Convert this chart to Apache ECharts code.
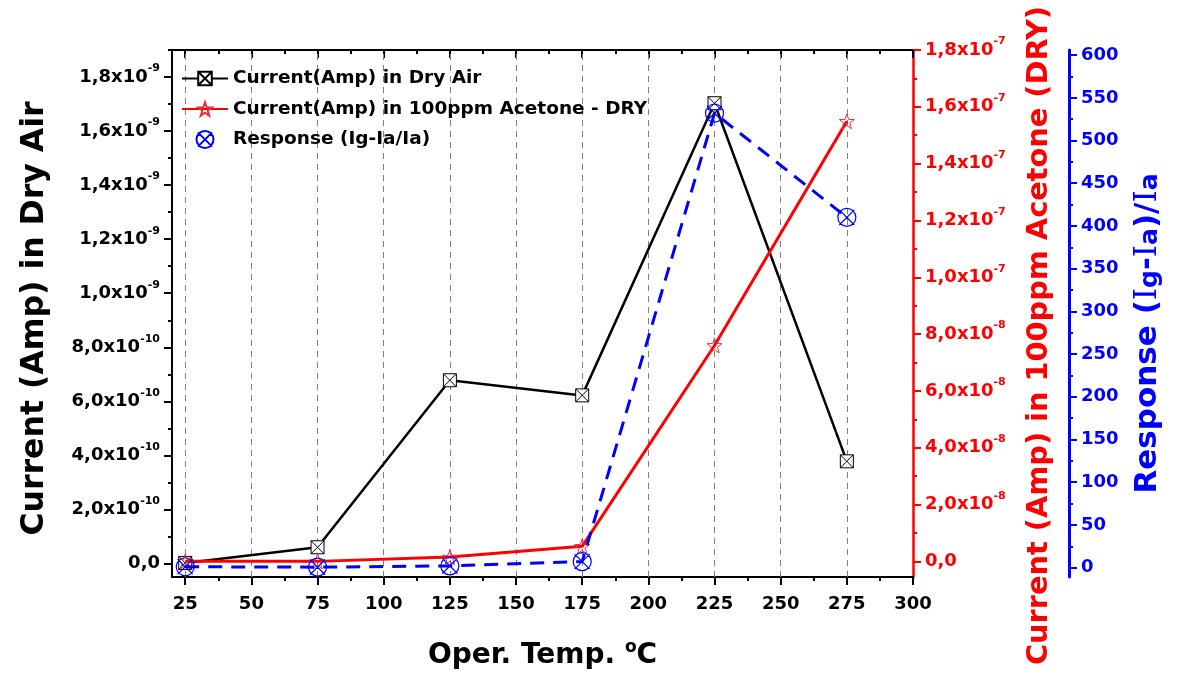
<!DOCTYPE html>
<html><head><meta charset="utf-8">
<script src="https://cdn.jsdelivr.net/npm/echarts@6/dist/echarts.min.js"></script>
<style>html,body{margin:0;padding:0;background:#fff}#c{width:1182px;height:679px}</style>
</head><body><div id="c"></div>
<script>
// ---------- data ----------
const temps = [25, 75, 125, 175, 225, 275];
const dryAir = [2e-12, 6.0e-11, 6.78e-10, 6.22e-10, 1.703e-9, 3.78e-10];
const acetone = [0, 0, 1.5e-9, 5.3e-9, 7.6e-8, 1.549e-7];
const response = [1, 0.5, 2, 7, 532, 410];

const seriesNames = ['Current(Amp) in Dry Air', 'Current(Amp) in 100ppm Acetone - DRY', 'Response (Ig-Ia/Ia)'];

const xTicks = [25, 50, 75, 100, 125, 150, 175, 200, 225, 250, 275, 300];
const xTickLabels = ['25', '50', '75', '100', '125', '150', '175', '200', '225', '250', '275', '300'];
const xMinorTicks = [37.5, 62.5, 87.5, 112.5, 137.5, 162.5, 187.5, 212.5, 237.5, 262.5, 287.5];
const gridX = [25, 50, 75, 100, 125, 150, 175, 200, 225, 250, 275];

const leftTicks = [0, 2e-10, 4e-10, 6e-10, 8e-10, 1e-9, 1.2e-9, 1.4e-9, 1.6e-9, 1.8e-9];
const leftMinorTicks = [1e-10, 3e-10, 5e-10, 7e-10, 9e-10, 1.1e-9, 1.3e-9, 1.5e-9, 1.7e-9, 1.9e-9];
const leftMantissa = ['0,0', '2,0x10', '4,0x10', '6,0x10', '8,0x10', '1,0x10', '1,2x10', '1,4x10', '1,6x10', '1,8x10'];
const leftExp = ['', '-10', '-10', '-10', '-10', '-9', '-9', '-9', '-9', '-9'];

const redTicks = [0, 2e-8, 4e-8, 6e-8, 8e-8, 1e-7, 1.2e-7, 1.4e-7, 1.6e-7, 1.8e-7];
const redMinorTicks = [1e-8, 3e-8, 5e-8, 7e-8, 9e-8, 1.1e-7, 1.3e-7, 1.5e-7, 1.7e-7];
const redMantissa = ['0,0', '2,0x10', '4,0x10', '6,0x10', '8,0x10', '1,0x10', '1,2x10', '1,4x10', '1,6x10', '1,8x10'];
const redExp = ['', '-8', '-8', '-8', '-8', '-7', '-7', '-7', '-7', '-7'];

const blueTicks = [0, 50, 100, 150, 200, 250, 300, 350, 400, 450, 500, 550, 600];
const blueTickLabels = ['0', '50', '100', '150', '200', '250', '300', '350', '400', '450', '500', '550', '600'];
const blueMinorTicks = [25, 75, 125, 175, 225, 275, 325, 375, 425, 475, 525, 575];

// ---------- helpers ----------
const FONT = 'DejaVu Sans';
const RED = '#ff0000', BLUE = '#0000ff';
function nearest(ticks, v) {
  let bi = 0, bd = Infinity;
  ticks.forEach((t, i) => { const d = Math.abs(t - v); if (d < bd) { bd = d; bi = i; } });
  return bi;
}
function sciFormatter(ticks, mant, exp) {
  return v => { const i = nearest(ticks, v); return exp[i] ? '{m|' + mant[i] + '}{s|' + exp[i] + '}' : '{m|' + mant[i] + '}'; };
}
function sciRich(color) {
  return {
    m: { fontSize: 18, fontWeight: 'bold', fontFamily: FONT, color: color, lineHeight: 28, verticalAlign: 'middle' },
    s: { fontSize: 11, fontWeight: 'bold', fontFamily: FONT, color: color, verticalAlign: 'top' }
  };
}
const squareX = 'path://M0,0L10,0L10,10L0,10Z M0,0L10,10 M10,0L0,10';
const star = 'path://M10,0L12.35,6.76L19.51,6.91L13.8,11.24L15.88,18.09L10,14L4.12,18.09L6.2,11.24L0.49,6.91L7.65,6.76Z';
const circleX = 'path://M0,5A5,5,0,1,1,10,5A5,5,0,1,1,0,5Z M0.8,0.8L9.2,9.2 M9.2,0.8L0.8,9.2';

const X_MIN = 20, X_MAX = 300;
function xAxisBase(extra) {
  return Object.assign({
    type: 'value', min: X_MIN, max: X_MAX, gridIndex: 0,
    splitLine: { show: false }, minorTick: { show: false }, minorSplitLine: { show: false },
    axisLabel: { show: false }, axisLine: { show: false, onZero: false }, axisTick: { show: false }
  }, extra);
}
function yAxisBase(extra) {
  return Object.assign({
    type: 'value', gridIndex: 0,
    splitLine: { show: false }, minorTick: { show: false }, minorSplitLine: { show: false },
    axisLabel: { show: false }, axisLine: { show: false, onZero: false }, axisTick: { show: false }
  }, extra);
}

const chart = echarts.init(document.getElementById('c'), null, { renderer: 'canvas' });
const option = {
  backgroundColor: '#ffffff',
  animation: false,
  grid: { left: 172, top: 50, right: 269, bottom: 102, containLabel: false, outerBoundsMode: 'none' },
  legend: {
    orient: 'vertical', left: 176, top: 64, itemWidth: 46, itemHeight: 17, itemGap: 11.5,
    textStyle: { fontSize: 18.5, fontWeight: 'bold', fontFamily: FONT, color: '#000', lineHeight: 17 },
    data: [
      { name: seriesNames[0] },
      { name: seriesNames[1] },
      { name: seriesNames[2], icon: circleX }
    ]
  },
  xAxis: [
    xAxisBase({
      position: 'bottom',
      axisLine: { show: true, onZero: false, lineStyle: { color: '#000', width: 2 } },
      axisTick: { show: true, customValues: xTicks, length: 8, lineStyle: { color: '#000', width: 2 } },
      axisLabel: { show: true, customValues: xTicks, margin: 18, fontSize: 18, fontWeight: 'bold', fontFamily: FONT, color: '#000',
        formatter: v => xTickLabels[nearest(xTicks, v)] },
      name: '{t|Oper. Temp. }{sup|o}{t|C}', nameLocation: 'middle', nameGap: 62,
      nameTextStyle: { rich: {
        t: { fontSize: 28, fontWeight: 'bold', fontFamily: FONT, color: '#000', lineHeight: 34, verticalAlign: 'middle' },
        sup: { fontSize: 17, fontWeight: 'bold', fontFamily: FONT, color: '#000', verticalAlign: 'top' } } }
    }),
    xAxisBase({
      position: 'top',
      axisLine: { show: true, onZero: false, lineStyle: { color: '#000', width: 2 } },
      axisTick: { show: true, inside: true, customValues: xTicks, length: 8, lineStyle: { color: '#000', width: 2 } }
    }),
    xAxisBase({
      position: 'bottom',
      axisTick: { show: true, customValues: xMinorTicks, length: 4, lineStyle: { color: '#000', width: 2 } }
    }),
    xAxisBase({
      position: 'top',
      axisTick: { show: true, inside: true, customValues: xMinorTicks, length: 4, lineStyle: { color: '#000', width: 2 } }
    })
  ],
  yAxis: [
    yAxisBase({
      position: 'left', min: -5e-11, max: 1.9e-9,
      axisLine: { show: true, onZero: false, lineStyle: { color: '#000', width: 2 } },
      axisTick: { show: true, customValues: leftTicks, length: 8, lineStyle: { color: '#000', width: 2 } },
      axisLabel: { show: true, customValues: leftTicks, margin: 12, formatter: sciFormatter(leftTicks, leftMantissa, leftExp), rich: sciRich('#000') },
      name: 'Current (Amp) in Dry Air', nameLocation: 'middle', nameRotate: 90, nameGap: 121, nameMoveOverlap: false,
      nameTextStyle: { fontSize: 31.5, fontWeight: 'bold', fontFamily: FONT, color: '#000', padding: [0, 10, 0, 0] }
    }),
    yAxisBase({
      position: 'right', offset: 0, min: -5.5e-9, max: 1.8e-7,
      axisLine: { show: true, onZero: false, lineStyle: { color: RED, width: 2.5 } },
      axisTick: { show: true, customValues: redTicks, length: 8, lineStyle: { color: RED, width: 2 } },
      axisLabel: { show: true, customValues: redTicks, margin: 12, formatter: sciFormatter(redTicks, redMantissa, redExp), rich: sciRich(RED) },
      name: 'Current (Amp) in 100ppm Acetone (DRY)', nameLocation: 'middle', nameRotate: 90, nameGap: 112, nameMoveOverlap: false,
      nameTextStyle: { fontSize: 28.8, fontWeight: 'bold', fontFamily: FONT, color: RED, padding: [0, 44, 0, 0] }
    }),
    yAxisBase({
      position: 'right', offset: 156, min: -11, max: 606,
      axisLine: { show: true, onZero: false, lineStyle: { color: BLUE, width: 3 } },
      axisTick: { show: true, customValues: blueTicks, length: 8, lineStyle: { color: BLUE, width: 2 } },
      axisLabel: { show: true, customValues: blueTicks, margin: 12, fontSize: 18, fontWeight: 'bold', fontFamily: FONT, color: BLUE,
        formatter: v => blueTickLabels[nearest(blueTicks, v)] },
      name: '{t|Response (}{i|I}{s|g}{t|-}{i|I}{s|a}{t|)/}{i|I}{s|a}', nameLocation: 'middle', nameRotate: 90, nameGap: 63, nameMoveOverlap: false,
      nameTextStyle: { padding: [0, 40, 0, 0], rich: {
        t: { fontSize: 31, fontWeight: 'bold', fontFamily: FONT, color: BLUE, verticalAlign: 'bottom' },
        i: { fontSize: 31, fontWeight: 'normal', fontFamily: 'DejaVu Serif', color: BLUE, verticalAlign: 'bottom' },
        s: { fontSize: 25, fontWeight: 'bold', fontFamily: FONT, color: BLUE, verticalAlign: 'bottom' } } }
    }),
    yAxisBase({
      position: 'left', min: -5e-11, max: 1.9e-9,
      axisTick: { show: true, customValues: leftMinorTicks, length: 4, lineStyle: { color: '#000', width: 2 } }
    }),
    yAxisBase({
      position: 'right', offset: 0, min: -5.5e-9, max: 1.8e-7,
      axisTick: { show: true, customValues: redMinorTicks, length: 4, lineStyle: { color: RED, width: 2 } }
    }),
    yAxisBase({
      position: 'right', offset: 156, min: -11, max: 606,
      axisTick: { show: true, customValues: blueMinorTicks, length: 4, lineStyle: { color: BLUE, width: 2 } }
    })
  ],
  series: [
    {
      name: seriesNames[0], type: 'line', xAxisIndex: 0, yAxisIndex: 0, z: 3,
      data: temps.map((t, i) => [t, dryAir[i]]),
      symbol: squareX, symbolSize: 13, showAllSymbol: true,
      lineStyle: { color: '#000', width: 2.5 },
      itemStyle: { color: '#ffffff', borderColor: '#000', borderWidth: 1 },
      markLine: {
        silent: true, symbol: 'none', animation: false, z: 1,
        label: { show: false },
        lineStyle: { color: '#808080', width: 1, type: [6, 5] },
        emphasis: { disabled: true },
        data: gridX.map(v => ({ xAxis: v }))
      }
    },
    {
      name: seriesNames[1], type: 'line', xAxisIndex: 0, yAxisIndex: 1, z: 4,
      data: temps.map((t, i) => [t, acetone[i]]),
      symbol: star, symbolSize: 15,
      lineStyle: { color: RED, width: 3 },
      itemStyle: { color: 'rgba(255,255,255,0)', borderColor: '#e8303a', borderWidth: 1 }
    },
    {
      name: seriesNames[2], type: 'line', xAxisIndex: 0, yAxisIndex: 2, z: 5,
      data: temps.map((t, i) => [t, response[i]]),
      symbol: circleX, symbolSize: 18,
      lineStyle: { color: BLUE, width: 3, type: [14, 9] },
      itemStyle: { color: 'rgba(255,255,255,0)', borderColor: BLUE, borderWidth: 1.2 }
    }
  ]
};
chart.setOption(option);
</script>
</body></html>
